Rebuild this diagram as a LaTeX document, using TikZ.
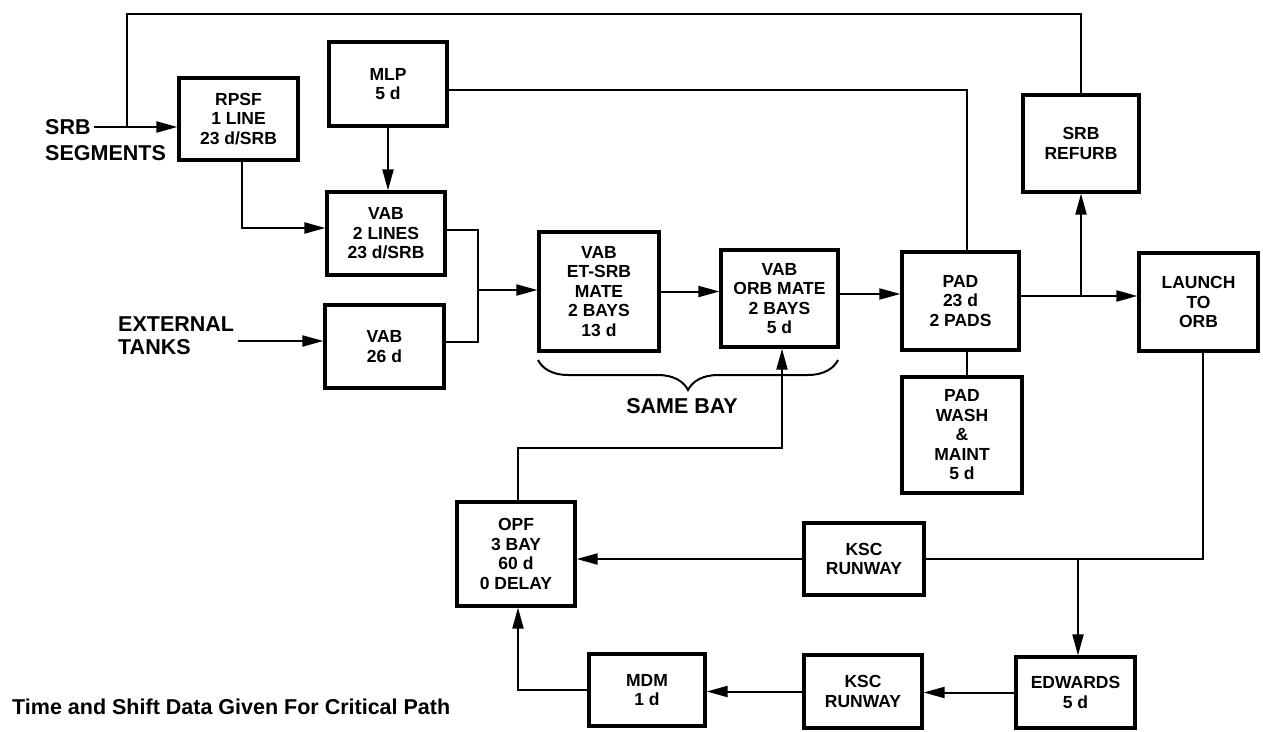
\documentclass[tikz,border=0pt]{standalone}
\usepackage{fontspec}
\setmainfont{Liberation Sans}
\usetikzlibrary{arrows.meta,decorations.pathreplacing,calc}
\begin{document}
\begin{tikzpicture}[x=1pt,y=-1pt,
  box/.style={draw, line width=3.2pt, inner sep=0pt, align=center,
    font=\fontsize{17.5}{19.5}\selectfont\bfseries},
  lab/.style={inner sep=0pt, font=\fontsize{21.5}{26}\selectfont\bfseries},
  conn/.style={line width=2pt},
  arr/.style={conn, -{Triangle[length=21pt,width=11pt]}},
  bracestyle/.style={line width=2pt, decorate, decoration={brace, mirror, amplitude=30pt}}
]
\useasboundingbox (0,0) rectangle (1263,731);

% boxes
\node[box, minimum width=119pt, minimum height=82pt] (rpsf) at (238.5,119) {RPSF\\1 LINE\\23 d/SRB};
\node[box, minimum width=118pt, minimum height=84pt] (mlp) at (388,84) {MLP\\5 d};
\node[box, minimum width=118pt, minimum height=83pt] (vabtwo) at (386,233.5) {VAB\\2 LINES\\23 d/SRB};
\node[box, minimum width=119pt, minimum height=83pt] (vabet) at (384.5,346.5) {VAB\\26 d};
\node[box, minimum width=120pt, minimum height=119pt] (etsrb) at (599,291.5) {VAB\\ET-SRB\\MATE\\2 BAYS\\13 d};
\node[box, minimum width=117pt, minimum height=97pt] (orb) at (779.5,298.5) {VAB\\ORB MATE\\2 BAYS\\5 d};
\node[box, minimum width=117pt, minimum height=98pt] (pad) at (960.5,301) {PAD\\23 d\\2 PADS};
\node[box, minimum width=116pt, minimum height=97pt] (refurb) at (1081,143.5) {SRB\\REFURB};
\node[box, minimum width=119pt, minimum height=98pt] (launch) at (1198.5,302) {LAUNCH\\TO\\ORB};
\node[box, minimum width=120pt, minimum height=116pt] (wash) at (962,435) {PAD\\WASH\\\&\\MAINT\\5 d};
\node[box, minimum width=120pt, minimum height=72pt] (kscone) at (864,559) {KSC\\RUNWAY};
\node[box, minimum width=118pt, minimum height=104pt] (opf) at (516,554) {OPF\\3 BAY\\60 d\\0 DELAY};
\node[box, minimum width=116pt, minimum height=72pt] (mdm) at (647,690) {MDM\\1 d};
\node[box, minimum width=118pt, minimum height=73pt] (ksctwo) at (863,691.5) {KSC\\RUNWAY};
\node[box, minimum width=119pt, minimum height=71pt] (edw) at (1075.5,692.5) {EDWARDS\\5 d};

% labels
\node[lab, anchor=west] (srb) at (45,127) {SRB};
\node[lab, anchor=west] (seg) at (45,153) {SEGMENTS};
\node[lab, anchor=west] (ext) at (118,324) {EXTERNAL};
\node[lab, anchor=west] (tanks) at (118,347) {TANKS};
\node[lab] (same) at (682,406) {SAME BAY};
\node[lab, anchor=west] (note) at (12,707) {Time and Shift Data Given For Critical Path};

% coordinates
\coordinate (topl) at (127,14);
\coordinate (s0) at ([xshift=3pt]srb.east);
\coordinate (m0) at ([yshift=-6pt]mlp.east);
\coordinate (p0) at ([xshift=6.5pt]pad.north);
\coordinate (p1) at ([xshift=6.5pt]pad.south);
\coordinate (v0) at ([yshift=5.5pt]vabtwo.west);
\coordinate (r0) at ([xshift=3.5pt]rpsf.south);
\coordinate (e0) at (238,341);
\coordinate (mx) at (478,290);
\coordinate (v1) at ([yshift=3.5pt]vabtwo.east);
\coordinate (v2) at ([yshift=4.5pt]vabet.east);
\coordinate (o1) at ([yshift=4.5pt]orb.east);
\coordinate (o2) at ([yshift=5pt]pad.east);
\coordinate (br) at (o2 -| refurb.south);
\coordinate (l1) at ([xshift=4.5pt]launch.south);
\coordinate (l2) at (l1 |- kscone.east);
\coordinate (e1) at ([xshift=2.5pt]edw.north);
\coordinate (l3) at (l2 -| e1);
\coordinate (q1) at ([xshift=2pt]opf.south);
\coordinate (q2) at ([xshift=2pt]opf.north);
\coordinate (qy) at (0,448);
\coordinate (q3) at ([xshift=2.5pt]orb.south);
\coordinate (b1) at (538,360);
\coordinate (b2) at (838,360);

% connectors
\draw[arr] (s0) -- (s0 -| rpsf.west);
\draw[conn] (refurb.north) -- (refurb.north |- topl) -- (topl) -- (topl |- s0);
\draw[conn] (m0) -| (p0);
\draw[arr] (mlp.south) -- (mlp.south |- vabtwo.north);
\draw[arr] (r0) |- (v0);
\draw[arr] (e0) -- (e0 -| vabet.west);
\draw[conn] (v1) -| (mx) |- (v2);
\draw[arr] (mx) -- (mx -| etsrb.west);
\draw[arr] (etsrb.east) -- (etsrb.east -| orb.west);
\draw[arr] (o1) -- (o1 -| pad.west);
\draw[arr] (o2) -- (o2 -| launch.west);
\draw[arr] (br) -- (refurb.south);
\draw[conn] (p1) -- (p1 |- wash.north);
\draw[conn] (l1) -- (l2) -- (kscone.east);
\draw[arr] (l3) -- (e1);
\draw[arr] (kscone.west) -- (kscone.west -| opf.east);
\draw[arr] (edw.west) -- (edw.west -| ksctwo.east);
\draw[arr] (ksctwo.west) -- (ksctwo.west -| mdm.east);
\draw[arr] (mdm.west) -| (q1);
\draw[arr] (q2) -- (q2 |- qy) -| (q3);
\draw[bracestyle] (b1) -- (b2);
\end{tikzpicture}
\end{document}
